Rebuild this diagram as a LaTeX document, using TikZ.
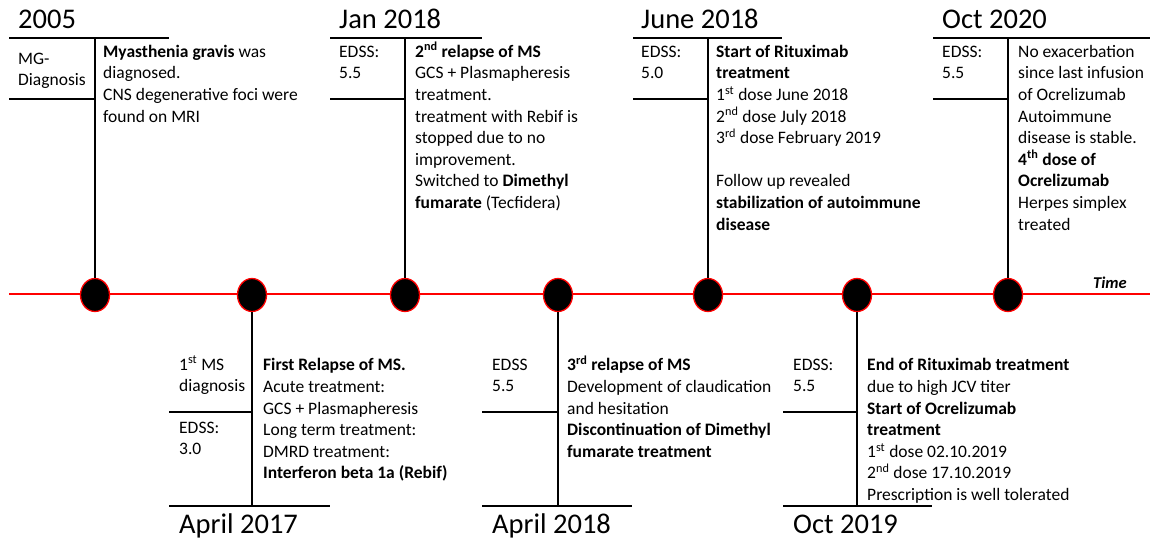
\documentclass[tikz,border=0pt]{standalone}
\usepackage{fontspec}
\setmainfont{Carlito}
\usetikzlibrary{shapes.geometric}
\begin{document}
\begin{tikzpicture}[x=1pt,y=-1pt,
  yr/.style={font=\fontsize{28.5}{30}\selectfont, anchor=base west, inner sep=0},
  lbl/.style={font=\fontsize{17.5}{21}\selectfont, align=left, anchor=north west, inner sep=0},
  txt/.style={font=\fontsize{17.5}{21.6}\selectfont, align=left, anchor=north west, inner sep=0},
  ev/.style={ellipse, draw=red, fill=black, line width=1.3pt, minimum width=29pt, minimum height=33pt, inner sep=0},
  bk/.style={draw=black, line width=2pt},
  tl/.style={draw=red, line width=2pt}]
\useasboundingbox (0,0) rectangle (1150,540);

% time line
\coordinate (rl) at (9,294);
\coordinate (rr) at (1150,294);
\draw[tl] (rl) -- (rr);
\node[font=\fontsize{16.5}{20}\selectfont, anchor=base east, inner sep=0] (time) at (1127,288) {\textbf{\textit{Time}}};

% top event coordinates
\coordinate (t1a) at (9,38);   \coordinate (t1b) at (169,38);  \coordinate (t1v) at (95,38);
\coordinate (m1a) at (9,99);   \coordinate (m1v) at (95,99);
\coordinate (t2a) at (330,38); \coordinate (t2b) at (482,38);  \coordinate (t2v) at (405,38);
\coordinate (m2a) at (330,99); \coordinate (m2v) at (405,99);
\coordinate (t3a) at (633,38); \coordinate (t3b) at (782,38);  \coordinate (t3v) at (708,38);
\coordinate (m3a) at (633,99); \coordinate (m3v) at (708,99);
\coordinate (t4a) at (933,38); \coordinate (t4b) at (1150,38); \coordinate (t4v) at (1008,38);
\coordinate (m4a) at (933,99); \coordinate (m4v) at (1008,99);

% bottom event coordinates
\coordinate (b1a) at (169,506); \coordinate (b1b) at (330,506); \coordinate (b1v) at (252,506);
\coordinate (n1a) at (169,412); \coordinate (n1v) at (252,412);
\coordinate (b2a) at (482,506); \coordinate (b2b) at (632,506); \coordinate (b2v) at (558,506);
\coordinate (n2a) at (482,412); \coordinate (n2v) at (558,412);
\coordinate (b3a) at (783,506); \coordinate (b3b) at (932,506); \coordinate (b3v) at (857,506);
\coordinate (n3a) at (783,412); \coordinate (n3v) at (857,412);

% lines
\foreach \i in {1,2,3,4}{
  \draw[bk] (t\i a) -- (t\i b);
  \draw[bk] (m\i a) -- (m\i v);
}
\foreach \i in {1,2,3}{
  \draw[bk] (b\i a) -- (b\i b);
  \draw[bk] (n\i a) -- (n\i v);
}

% event circles
\node[ev] (e1) at (95,295) {};
\node[ev] (e2) at (252,295) {};
\node[ev] (e3) at (405,295) {};
\node[ev] (e4) at (558,295) {};
\node[ev] (e5) at (708,295) {};
\node[ev] (e6) at (857,295) {};
\node[ev] (e7) at (1008,295) {};

\draw[bk] (t1v) -- (e1.north);
\draw[bk] (t2v) -- (e3.north);
\draw[bk] (t3v) -- (e5.north);
\draw[bk] (t4v) -- (e7.north);
\draw[bk] (e2.south) -- (b1v);
\draw[bk] (e4.south) -- (b2v);
\draw[bk] (e6.south) -- (b3v);

% 2005
\node[yr] (y1) at (18,29) {2005};
\node[lbl] (l1) at (18,49.3) {\strut MG-\\Diagnosis};
\node[txt] (x1) at (103,41.9) {\strut\textbf{Myasthenia gravis} was\\diagnosed.\\CNS degenerative foci were\\found on MRI};

% Jan 2018
\node[yr] (y2) at (339,29) {Jan 2018};
\node[lbl] (l2) at (339,42.3) {\strut EDSS:\\5.5};
\node[txt] (x2) at (415,41.9) {\strut\textbf{2\textsuperscript{nd} relapse of MS}\\GCS + Plasmapheresis\\treatment.\\treatment with Rebif is\\stopped due to no\\improvement.\\Switched to \textbf{Dimethyl}\\\textbf{fumarate} (Tecfidera)};

% June 2018
\node[yr] (y3) at (641,29) {June 2018};
\node[lbl] (l3) at (641,42.3) {\strut EDSS:\\5.0};
\node[txt] (x3) at (716,41.9) {\strut\textbf{Start of Rituximab}\\\textbf{treatment}\\1\textsuperscript{st} dose June 2018\\2\textsuperscript{nd} dose July 2018\\3\textsuperscript{rd} dose February 2019\\\strut\\Follow up revealed\\\textbf{stabilization of autoimmune}\\\textbf{disease}};

% Oct 2020
\node[yr] (y4) at (942,29) {Oct 2020};
\node[lbl] (l4) at (942,42.3) {\strut EDSS:\\5.5};
\node[txt] (x4) at (1018,41.9) {\strut No exacerbation\\since last infusion\\of Ocrelizumab\\Autoimmune\\disease is stable.\\\textbf{4\textsuperscript{th} dose of}\\\textbf{Ocrelizumab}\\Herpes simplex\\treated};

% April 2017
\node[yr] (y5) at (179,533) {April 2017};
\node[lbl] (l5) at (179,355.3) {\strut 1\textsuperscript{st} MS\\diagnosis};
\node[lbl] (k5) at (179,418.3) {\strut EDSS:\\3.0};
\node[txt] (x5) at (263,355.6) {\strut\textbf{First Relapse of MS.}\\Acute treatment:\\GCS + Plasmapheresis\\Long term treatment:\\DMRD treatment:\\\textbf{Interferon beta 1a (Rebif)}};

% April 2018
\node[yr] (y6) at (492,533) {April 2018};
\node[lbl] (l6) at (492,355.3) {\strut EDSS\\5.5};
\node[txt] (x6) at (567,355.6) {\strut\textbf{3\textsuperscript{rd} relapse of MS}\\Development of claudication\\and hesitation\\\textbf{Discontinuation of Dimethyl}\\\textbf{fumarate treatment}};

% Oct 2019
\node[yr] (y7) at (793,533) {Oct 2019};
\node[lbl] (l7) at (793,355.3) {\strut EDSS:\\5.5};
\node[txt] (x7) at (867,355.6) {\strut\textbf{End of Rituximab treatment}\\due to high JCV titer\\\textbf{Start of Ocrelizumab}\\\textbf{treatment}\\1\textsuperscript{st} dose 02.10.2019\\2\textsuperscript{nd} dose 17.10.2019\\Prescription is well tolerated};
\end{tikzpicture}
\end{document}
